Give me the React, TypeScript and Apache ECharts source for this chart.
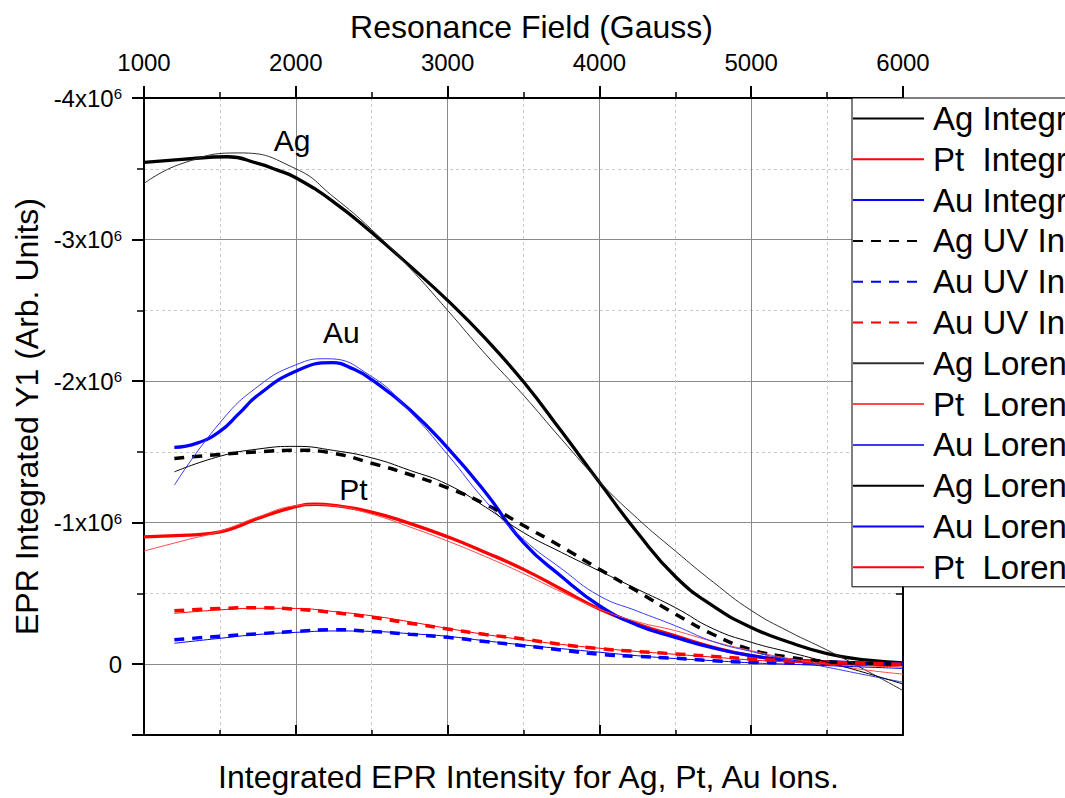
import React, { useEffect, useRef } from "react";
import * as echarts from "echarts";

// Resonance field (Gauss) sample positions, per curve
const FIELD_B = [1200, 1500, 1750, 2000, 2250, 2500, 2750, 3000, 3250, 3500, 3750, 4000, 4250, 4500, 4750, 5000, 5250, 5500, 5750, 6000];
const AG_INT_X = [1000, 1250, 1550, 1750, 1875, 2000, 2250, 2500, 2750, 3000, 3250, 3500, 3750, 4000, 4250, 4500, 4750, 5000, 5250, 5500, 5750, 6000];
const PT_INT_X = [1000, 1250, 1375, 1500, 1625, 1750, 2000, 2125, 2250, 2500, 2750, 3000, 3250, 3500, 3750, 4000, 4250, 4500, 4750, 5000, 5250, 5500, 5750, 6000];
const AU_INT_X = [1200, 1350, 1500, 1625, 1750, 2000, 2240, 2380, 2500, 2750, 3000, 3250, 3500, 3750, 4000, 4250, 4500, 4750, 5000, 5250, 5500, 5750, 6000];
const AG_LOR1_X = [1000, 1250, 1625, 2000, 2250, 2500, 2750, 3000, 3250, 3500, 3750, 4000, 4250, 4500, 4750, 5000, 5250, 5500, 5750, 6000];
const PT_LOR1_X = [1000, 1250, 1500, 1750, 2000, 2125, 2250, 2500, 2750, 3000, 3250, 3500, 3750, 4000, 4250, 4500, 4750, 5000, 5250, 5500, 5750, 6000];
const AU_LOR1_X = [1200, 1500, 1750, 2000, 2200, 2500, 2750, 3000, 3250, 3500, 3750, 4000, 4250, 4500, 4750, 5000, 5250, 5500, 5750, 6000];

// Values in units of 10^6 (negative = upward, axis is inverted)
const AG_INT = [-3.545, -3.566, -3.585, -3.538, -3.492, -3.437, -3.265, -3.05, -2.815, -2.57, -2.3, -1.995, -1.645, -1.285, -0.93, -0.62, -0.41, -0.26, -0.155, -0.075, -0.03, -0.01];
const PT_INT = [-0.9, -0.91, -0.917, -0.935, -0.975, -1.03, -1.113, -1.13, -1.122, -1.075, -0.995, -0.9, -0.79, -0.67, -0.53, -0.39, -0.284, -0.2, -0.12, -0.06, -0.03, -0.014, -0.005, 0];
const AU_INT = [-1.532, -1.562, -1.645, -1.77, -1.9, -2.07, -2.13, -2.085, -2.01, -1.8, -1.528, -1.213, -0.859, -0.62, -0.413, -0.276, -0.19, -0.115, -0.06, -0.03, -0.016, -0.008, -0.005];
const AG_UV = [-1.453, -1.482, -1.5, -1.512, -1.49, -1.42, -1.34, -1.246, -1.13, -0.98, -0.83, -0.671, -0.515, -0.355, -0.21, -0.103, -0.05, -0.018, -0.005, 0];
const AU_UV_BLUE = [-0.173, -0.197, -0.215, -0.232, -0.244, -0.232, -0.212, -0.19, -0.16, -0.131, -0.1, -0.07, -0.055, -0.042, -0.025, -0.014, -0.01, -0.007, -0.003, 0];
const AU_UV_RED = [-0.377, -0.394, -0.399, -0.389, -0.365, -0.331, -0.29, -0.249, -0.21, -0.178, -0.14, -0.11, -0.09, -0.073, -0.055, -0.037, -0.025, -0.014, -0.006, 0];
const AG_LOR1 = [-3.396, -3.537, -3.612, -3.5, -3.3, -3.07, -2.8, -2.5, -2.19, -1.9, -1.59, -1.29, -1.03, -0.8, -0.58, -0.38, -0.23, -0.1, 0.04, 0.186];
const PT_LOR1 = [-0.8, -0.87, -0.94, -1.04, -1.12, -1.128, -1.12, -1.06, -0.97, -0.87, -0.76, -0.64, -0.51, -0.39, -0.3, -0.237, -0.16, -0.096, -0.04, 0.0, 0.04, 0.07];
const AU_LOR1 = [-1.265, -1.706, -1.962, -2.115, -2.158, -2.032, -1.786, -1.481, -1.152, -0.882, -0.675, -0.483, -0.375, -0.272, -0.16, -0.09, -0.03, 0.021, 0.075, 0.127];
const AG_LOR2 = [-1.359, -1.469, -1.52, -1.539, -1.51, -1.458, -1.37, -1.27, -1.11, -0.93, -0.79, -0.659, -0.53, -0.4, -0.25, -0.155, -0.085, -0.015, 0.06, 0.14];
const AU_LOR2 = [-0.148, -0.183, -0.21, -0.225, -0.235, -0.232, -0.216, -0.197, -0.165, -0.136, -0.11, -0.085, -0.06, -0.04, -0.025, -0.01, 0.0, 0.01, 0.02, 0.03];
const PT_LOR2 = [-0.359, -0.384, -0.395, -0.394, -0.372, -0.342, -0.3, -0.253, -0.21, -0.173, -0.14, -0.113, -0.09, -0.07, -0.05, -0.03, -0.015, 0.0, 0.01, 0.02];

const SERIES_NAMES = [
  "Ag Integrated",
  "Pt  Integrated",
  "Au Integrated",
  "Ag UV Integrated",
  "Au UV Integrated",
  "Au UV Integrated 2",
  "Ag Lorentz Fit 1",
  "Pt  Lorentz Fit 1",
  "Au Lorentz Fit 1",
  "Ag Lorentz Fit 2",
  "Au Lorentz Fit 2",
  "Pt  Lorentz Fit 2",
];

const ANNOT_NAMES = ["Ag", "Au", "Pt"];
const ANNOT_X = [1976, 2300, 2379];
const ANNOT_Y = [-3.7, -2.34, -1.235];

const X_TITLE = "Resonance Field (Gauss)";
const Y_TITLE = "EPR Integrated Y1 (Arb. Units)";
const BOTTOM_TITLE = "Integrated EPR Intensity for Ag, Pt, Au Ions.";

const FONT = "'Liberation Sans', Arial, Helvetica, sans-serif";

function pairs(xs: number[], ys: number[]) {
  return xs.map((x, i) => [x, ys[i]]);
}

export default function App() {
  const ref = useRef<HTMLDivElement>(null);

  useEffect(() => {
    if (!ref.current) return;
    const chart = echarts.init(ref.current, undefined, { renderer: "svg" });

    const DASH = [10, 8];
    const defs: any[] = [
      { x: AG_INT_X, y: AG_INT, color: "#000000", width: 3.3, type: "solid" },
      { x: PT_INT_X, y: PT_INT, color: "#ff0000", width: 3.3, type: "solid" },
      { x: AU_INT_X, y: AU_INT, color: "#0000ff", width: 3.3, type: "solid" },
      { x: FIELD_B, y: AG_UV, color: "#000000", width: 3.5, type: DASH },
      { x: FIELD_B, y: AU_UV_BLUE, color: "#0000ff", width: 3.5, type: DASH },
      { x: FIELD_B, y: AU_UV_RED, color: "#ff0000", width: 3.5, type: DASH },
      { x: AG_LOR1_X, y: AG_LOR1, color: "#303030", width: 1, type: "solid" },
      { x: PT_LOR1_X, y: PT_LOR1, color: "#ff4a4a", width: 1, type: "solid" },
      { x: AU_LOR1_X, y: AU_LOR1, color: "#3a3aff", width: 1, type: "solid" },
      { x: FIELD_B, y: AG_LOR2, color: "#000000", width: 1, type: "solid" },
      { x: FIELD_B, y: AU_LOR2, color: "#0000ff", width: 1, type: "solid" },
      { x: FIELD_B, y: PT_LOR2, color: "#ff0000", width: 1, type: "solid" },
    ];

    const lineSeries = defs.map((d, i) => ({
      name: SERIES_NAMES[i],
      type: "line",
      xAxisIndex: 0,
      yAxisIndex: 1,
      data: pairs(d.x, d.y),
      smooth: 0.5,
      symbol: "none",
      showSymbol: false,
      color: d.color,
      lineStyle: { color: d.color, width: d.width, type: d.type },
      z: i < 6 ? 3 : 4,
    }));

    const annotSeries = {
      name: "annotations",
      type: "scatter",
      xAxisIndex: 0,
      yAxisIndex: 1,
      symbolSize: 0,
      itemStyle: { color: "#000000" },
      label: {
        show: true,
        position: "inside",
        formatter: "{b}",
        fontSize: 30,
        fontFamily: FONT,
        color: "#000000",
        textBorderWidth: 0,
        opacity: 1,
      },
      data: ANNOT_NAMES.map((n, i) => ({ name: n, value: [ANNOT_X[i], ANNOT_Y[i]] })),
      z: 5,
    };

    const yLabel = (v: number) => {
      if (Math.abs(v) < 1e-9) return "{b|0}";
      if (!Number.isInteger(v)) return "";
      return `{b|${v}x10}{s|6}`;
    };

    chart.setOption({
      animation: false,
      backgroundColor: "#ffffff",
      textStyle: { fontFamily: FONT },
      grid: { left: 144, right: 162, top: 98, bottom: 63, containLabel: false },
      legend: {
        orient: "vertical",
        left: 852,
        top: 98,
        itemWidth: 71,
        itemHeight: 14,
        itemGap: 7.8,
        padding: [4, 260, 3, 0],
        backgroundColor: "#ffffff",
        borderColor: "#000000",
        borderWidth: 1,
        borderRadius: 0,
        selectedMode: false,
        itemStyle: { opacity: 0 },
        textStyle: { fontSize: 33, fontFamily: FONT, color: "#000", lineHeight: 33, padding: [0, 0, 0, 4] },
        data: SERIES_NAMES,
      },
      xAxis: [
        {
          type: "value",
          position: "top",
          min: 1000,
          max: 6000,
          interval: 1000,
          name: X_TITLE,
          nameLocation: "middle",
          nameGap: 55,
          nameTextStyle: { fontSize: 32, fontFamily: FONT, color: "#000", padding: [0, 0, 0, 16] },
          axisLine: { show: true, onZero: false, lineStyle: { color: "#000", width: 2 } },
          axisTick: { show: true, inside: false, length: 12, lineStyle: { color: "#000", width: 2 } },
          minorTick: { show: true, splitNumber: 2, length: 6, lineStyle: { color: "#000", width: 1.5 } },
          axisLabel: {
            show: true,
            fontSize: 24,
            fontFamily: FONT,
            color: "#000",
            margin: 24,
            formatter: (v: number) => String(v),
          },
          splitLine: { show: true, lineStyle: { color: "#8a8a8a", width: 1 } },
          minorSplitLine: { show: true, lineStyle: { color: "#c8c8c8", width: 1, type: [3, 3] } },
        },
        {
          type: "value",
          position: "bottom",
          min: 1000,
          max: 6000,
          interval: 1000,
          name: BOTTOM_TITLE,
          nameLocation: "middle",
          nameGap: 26,
          nameTextStyle: { fontSize: 32, fontFamily: FONT, color: "#000", padding: [0, 0, 0, 10] },
          axisLine: { show: true, onZero: false, lineStyle: { color: "#000", width: 2 } },
          axisTick: { show: true, inside: true, length: 10, lineStyle: { color: "#000", width: 2 } },
          minorTick: { show: true, splitNumber: 2, length: 5, lineStyle: { color: "#000", width: 1.5 } },
          axisLabel: { show: false },
          splitLine: { show: false },
        },
      ],
      yAxis: [
        {
          type: "value",
          position: "left",
          inverse: true,
          min: -4,
          max: 0.5,
          interval: 0.5,
          axisLine: { show: false },
          axisTick: { show: true, inside: false, length: 7, lineStyle: { color: "#000", width: 1.5 } },
          axisLabel: { show: false },
          splitLine: { show: true, lineStyle: { color: "#c8c8c8", width: 1, type: [3, 3] } },
        },
        {
          type: "value",
          position: "left",
          inverse: true,
          min: -4,
          max: 0.5,
          interval: 1,
          name: Y_TITLE,
          nameLocation: "middle",
          nameGap: 100,
          nameTextStyle: { fontSize: 32, fontFamily: FONT, color: "#000" },
          axisLine: { show: true, onZero: false, lineStyle: { color: "#000", width: 2 } },
          axisTick: { show: true, inside: false, length: 12, lineStyle: { color: "#000", width: 2 } },
          axisLabel: {
            show: true,
            margin: 22,
            formatter: yLabel,
            rich: {
              b: { fontSize: 24, fontFamily: FONT, color: "#000", lineHeight: 24, verticalAlign: "bottom" },
              s: { fontSize: 15, fontFamily: FONT, color: "#000", lineHeight: 12, verticalAlign: "top", padding: [0, 0, 18, 0] },
            },
          },
          splitLine: { show: true, lineStyle: { color: "#8a8a8a", width: 1 } },
        },
        {
          type: "value",
          position: "right",
          inverse: true,
          min: -4,
          max: 0.5,
          interval: 0.5,
          axisLine: { show: true, onZero: false, lineStyle: { color: "#000", width: 2 } },
          axisTick: { show: true, inside: true, length: 7, lineStyle: { color: "#000", width: 1.5 } },
          axisLabel: { show: false },
          splitLine: { show: false },
        },
      ],
      series: [...lineSeries, annotSeries],
    });

    return () => {
      chart.dispose();
    };
  }, []);

  return (
    <div
      ref={ref}
      style={{ position: "fixed", left: 0, top: 0, width: 1065, height: 798, background: "#fff" }}
    />
  );
}
